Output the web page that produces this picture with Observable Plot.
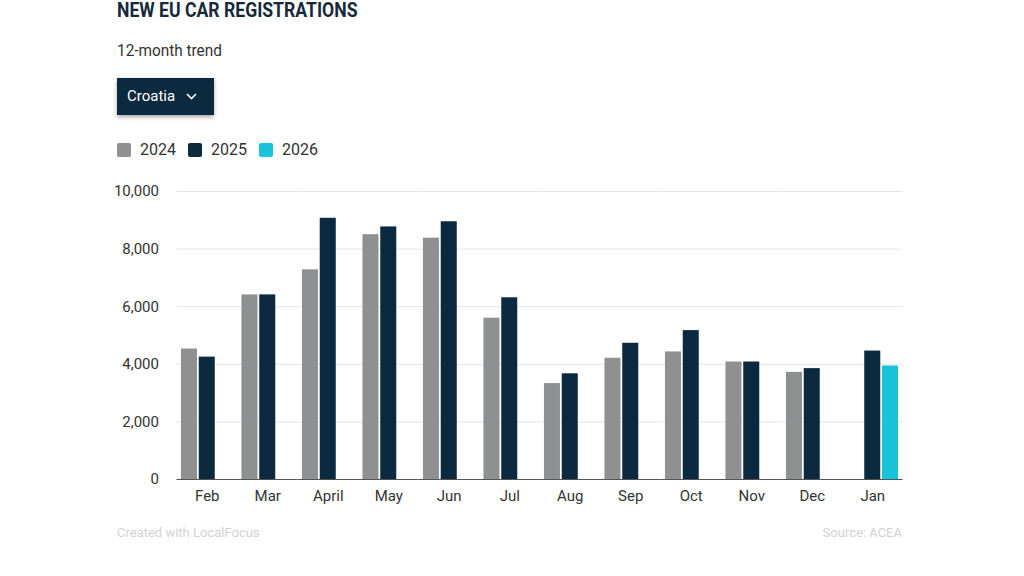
<!DOCTYPE html>
<html>
<head>
<meta charset="utf-8">
<script src="https://cdn.jsdelivr.net/npm/d3@7"></script>
<script src="https://cdn.jsdelivr.net/npm/@observablehq/plot@0.6"></script>
<style>
  html, body { margin: 0; padding: 0; background: #fff; }
  body { width: 1024px; height: 576px; position: relative; overflow: hidden;
         font-family: "Roboto", sans-serif; }
  .title { position: absolute; left: 117px; top: -2px; font-size: 20px; font-weight: bold; color: #15293a;
           transform: scaleX(0.88); transform-origin: 0 0; white-space: nowrap; }
  .subtitle { position: absolute; left: 117px; top: 41px; font-size: 16px; color: #333;
              transform: scaleX(0.96); transform-origin: 0 0; }
  .button { position: absolute; left: 117px; top: 78px; width: 97px; height: 37px; background: #0b2a40;
            box-shadow: 0 2px 4px rgba(0,0,0,0.35); color: #fff; font-size: 15px; line-height: 37px; box-sizing: border-box; padding-left: 10px; }
  .button svg { position: absolute; left: 69px; top: 15px; }
  .legend { position: absolute; left: 117px; top: 140px; font-size: 16px; color: #333; display: flex; align-items: center; }
  .legend .item { display: flex; align-items: center; margin-right: 12px; }
  .legend .sw { width: 14px; height: 14px; border-radius: 2px; margin-right: 9px; }
  #chart { position: absolute; left: 0; top: 175px; }
  .foot { position: absolute; top: 525px; font-size: 13px; color: #d2d2d2; }
</style>
</head>
<body>
<div class="title">NEW EU CAR REGISTRATIONS</div>
<div class="subtitle">12-month trend</div>
<div class="button">Croatia<svg width="11" height="7" viewBox="0 0 11 7"><path d="M1 1 L5.5 5.5 L10 1" fill="none" stroke="#fff" stroke-width="1.6"/></svg></div>
<div class="legend" id="legend"></div>
<div id="chart"></div>
<div class="foot" style="left:117px">Created with LocalFocus</div>
<div class="foot" style="right:122px">Source: ACEA</div>
<script>
const months = ["Feb","Mar","April","May","Jun","Jul","Aug","Sep","Oct","Nov","Dec","Jan"];
const years = ["2024","2025","2026"];
const colors = ["#8e9091","#0b2a40","#17c3da"];
const v2024 = [4530, 6410, 7280, 8500, 8380, 5600, 3330, 4210, 4430, 4080, 3720, null];
const v2025 = [4250, 6410, 9070, 8770, 8950, 6310, 3670, 4730, 5170, 4080, 3850, 4460];
const v2026 = [null, null, null, null, null, null, null, null, null, null, null, 3940];
const yTicks = [0, 2000, 4000, 6000, 8000, 10000];

const series = [v2024, v2025, v2026];
const data = [];
months.forEach((m, i) => years.forEach((y, j) => {
  if (series[j][i] != null) data.push({month: m, year: y, value: series[j][i]});
}));

const legend = document.getElementById("legend");
years.forEach((y, j) => {
  const it = document.createElement("div"); it.className = "item";
  it.innerHTML = `<div class="sw" style="background:${colors[j]}"></div><span>${y}</span>`;
  legend.appendChild(it);
});

const chart = Plot.plot({
  width: 1024,
  height: 344,
  marginLeft: 176.5,
  marginRight: 121.5,
  marginTop: 16,
  marginBottom: 40,
  style: {fontFamily: 'Roboto, sans-serif', fontSize: "15px", color: "#333", background: "transparent"},
  fx: {domain: months, padding: 0, round: false, label: null, axis: "bottom", tickSize: 0, tickPadding: 11},
  x: {domain: years, paddingInner: 0.1, paddingOuter: 0.25, round: false, axis: null},
  y: {domain: [0, 10000], ticks: yTicks, tickFormat: d3.format(","), label: null, tickSize: 0, tickPadding: 18},
  color: {domain: years, range: colors},
  marks: [
    Plot.gridY(yTicks.filter(d => d > 0), {stroke: "#e4e4e4", strokeOpacity: 1}),
    Plot.barY(data, {fx: "month", x: "year", y: "value", fill: "year"}),
    Plot.ruleY([0], {stroke: "#555", strokeWidth: 1.2})
  ]
});
document.getElementById("chart").appendChild(chart);
</script>
</body>
</html>
